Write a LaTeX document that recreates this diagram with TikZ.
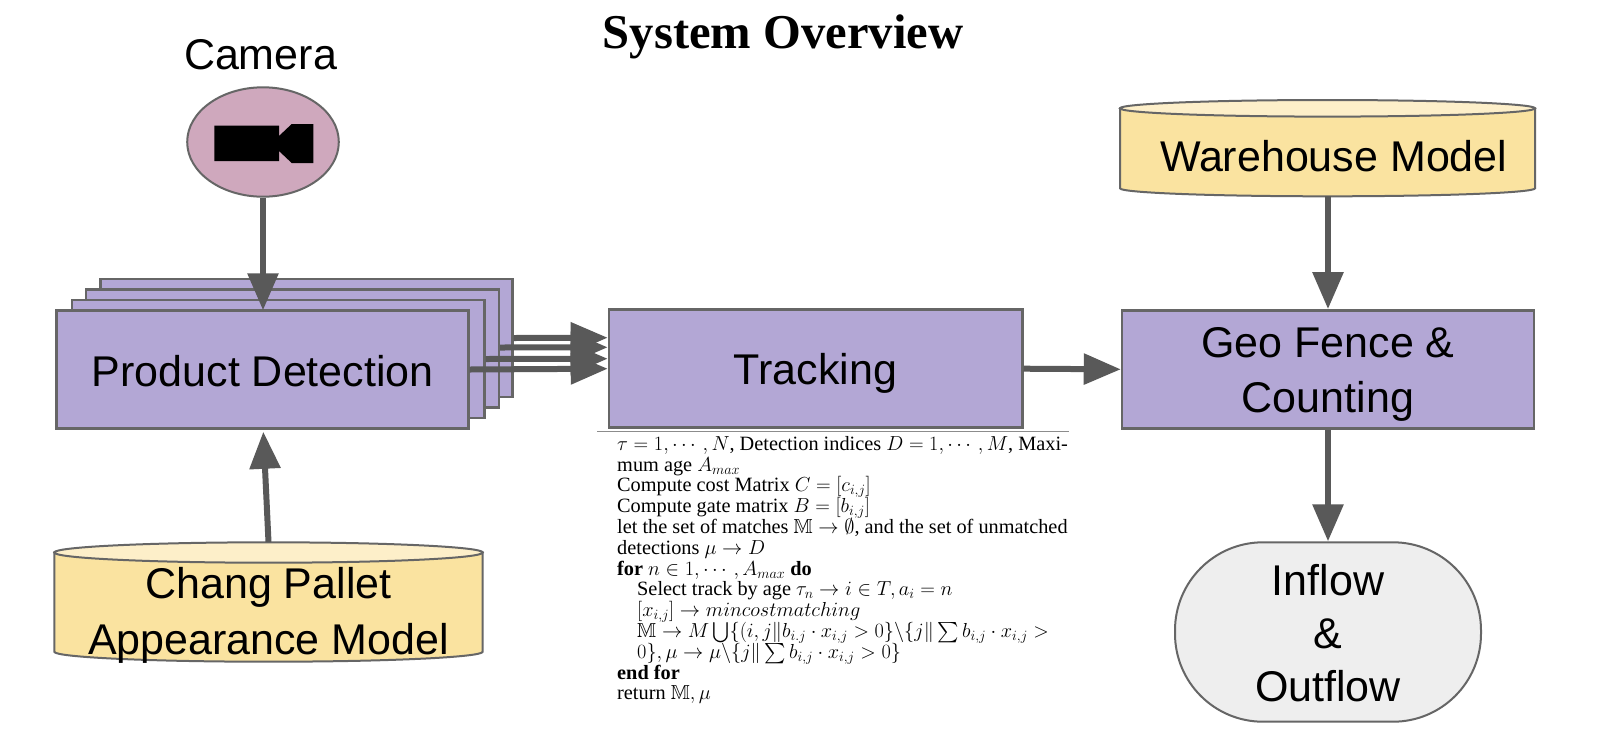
\documentclass[tikz,border=0pt]{standalone}
\usepackage{fix-cm}
\usepackage{amsmath,amssymb}
\usepackage[no-math]{fontspec}
\setmainfont{Liberation Serif}
\newfontfamily\diagsans{Liberation Sans}
\usetikzlibrary{arrows.meta,shapes.geometric}
\normallineskiplimit=-100pt
\lineskiplimit=-100pt
\definecolor{boxpurple}{HTML}{B3A7D5}
\definecolor{cylbody}{HTML}{FAE3A0}
\definecolor{cyltop}{HTML}{FDEFC9}
\definecolor{campink}{HTML}{CFA8BD}
\definecolor{termgray}{HTML}{EEEEEE}
\definecolor{edgegray}{HTML}{666666}
\definecolor{linkgray}{HTML}{595959}
\tikzset{
  x=1pt,y=-1pt,
  lbl/.style={font=\diagsans\fontsize{43}{#1}\selectfont,align=center,inner sep=0pt},
  lbl/.default=54.5,
  procbox/.style={draw=edgegray,line width=2.5pt,fill=boxpurple,inner sep=0pt,minimum width=#1,minimum height=118pt},
  link/.style={draw=linkgray,line width=6pt,-{Triangle[length=37pt,width=30pt]}},
  cyl/.style={draw=edgegray,line width=2pt},
  hiddenbox/.style={inner sep=0pt,draw=none,fill=none},
}
\begin{document}
\begin{tikzpicture}
\useasboundingbox[fill=white] (0,0) rectangle (1612,748);

% title
\node[anchor=base,inner sep=0pt,font=\bfseries\fontsize{48.6}{52}\selectfont] (title) at (783,48.5) {System Overview};

% camera
\node[anchor=base,lbl] (camlabel) at (260.5,69) {Camera};
\node[draw=edgegray,line width=2pt,fill=campink,ellipse,inner sep=0pt,minimum width=151.6pt,minimum height=109.4pt] (cam) at (263,142) {};
\fill[black] (214.3,125.7) -- (279,125.7) -- (279,136) -- (291.7,124) -- (313.3,124) -- (313.3,163) -- (291.7,163) -- (279,151) -- (279,161) -- (214.3,161) -- cycle;

% detection stack
\node[procbox=411.6pt] (d1) at (306.5,338) {};
\node[procbox=412.6pt] (d2) at (292.5,348.5) {};
\node[procbox=412.3pt] (d3) at (278.2,359) {};
\node[procbox=412pt] (d4) at (262.3,369.5) {};
\node[lbl] (d4text) at (262.8,371) {Product Detection};

% tracking and geo
\node[procbox=413.3pt] (track) at (815.6,368.7) {};
\node[lbl] (tracktext) at (815.6,373.7) {Tracking};
\node[procbox=412pt] (geo) at (1328,369.3) {};
\node[lbl] (geotext) at (1328,374.5) {Geo Fence \&\\Counting};

% rule + algorithm
\draw[draw=black!45,line width=1.5pt] (597,431.7) -- (1069,431.7);
\node[anchor=north west,inner sep=0pt,align=left,
      font=\fontsize{20.3}{20.8}\selectfont] (algo) at (617,436)
{$\tau=1,\cdots,N$, Detection indices $D=1,\cdots,M$, Maxi-\\
mum age $A_{max}$\\
Compute cost Matrix $C=[c_{i,j}]$\\
Compute gate matrix $B=[b_{i,j}]$\\
let the set of matches $\mathbb{M}\rightarrow\emptyset$, and the set of unmatched\\
detections $\mu\rightarrow D$\\
\textbf{for} $n\in 1,\cdots,A_{max}$ \textbf{do}\\
\hspace*{20pt}Select track by age $\tau_n\rightarrow i\in T,a_i=n$\\
\hspace*{20pt}$[x_{i,j}]\rightarrow mincostmatching$\\
\hspace*{20pt}$\mathbb{M}\rightarrow M\bigcup\{(i,j\|b_{i.j}\cdot x_{i,j}>0\}\backslash\{j\|\sum b_{i,j}\cdot x_{i,j}>$\\
\hspace*{20pt}$0\},\mu\rightarrow\mu\backslash\{j\|\sum b_{i,j}\cdot x_{i,j}>0\}$\\
\textbf{end for}\\
return $\mathbb{M},\mu$};

% chang cylinder
\path[cyl,fill=cylbody] (54.3,552.3) -- (54.3,651.7) arc[start angle=180,end angle=360,x radius=214.2,y radius=-10] -- (482.7,552.3) -- cycle;
\path[cyl,fill=cyltop] (268.5,552.5) ellipse[x radius=214.2,y radius=10.2];
\node[hiddenbox,minimum width=428.4pt,minimum height=119.4pt] (changbox) at (268.5,602) {};
\node[lbl=55.5] (changtext) at (268.5,615.5) {Chang Pallet\\Appearance Model};

% warehouse cylinder
\path[cyl,fill=cylbody] (1120,108.3) -- (1120,188.3) arc[start angle=180,end angle=360,x radius=207.5,y radius=-8] -- (1535,108.3) -- cycle;
\path[cyl,fill=cyltop] (1327.5,108.3) ellipse[x radius=207.5,y radius=8.3];
\node[hiddenbox,minimum width=415pt,minimum height=96pt] (warebox) at (1327.5,148) {};
\node[lbl,anchor=base] (waretext) at (1333.7,171.5) {Warehouse Model};

% terminator
\node[draw=edgegray,line width=2pt,fill=termgray,rounded corners=88pt,inner sep=0pt,minimum width=306pt,minimum height=179.4pt] (flow) at (1328,632) {};
\node[lbl=53] (flowtext) at (1328,633) {Inflow\\\&\\Outflow};

% connectors
\draw[link] (cam.south) -- ([yshift=-1pt]d4.north -| cam.south);
\draw[link] (changbox.north) -- ([xshift=1pt,yshift=-2pt]d4.south);
\draw[link] (d1.east) -- ([yshift=31pt]track.west);
\draw[link] ([yshift=1pt]d2.east) -- ([yshift=21.4pt]track.west);
\draw[link] (d3.east) -- ([yshift=10pt]track.west);
\draw[link] (d4.east) -- (track.west);
\draw[link] (track.east) -- (geo.west);
\draw[link] (warebox.south -| geo.north) -- (geo.north);
\draw[link] (geo.south) -- (flow.north);
\end{tikzpicture}
\end{document}
